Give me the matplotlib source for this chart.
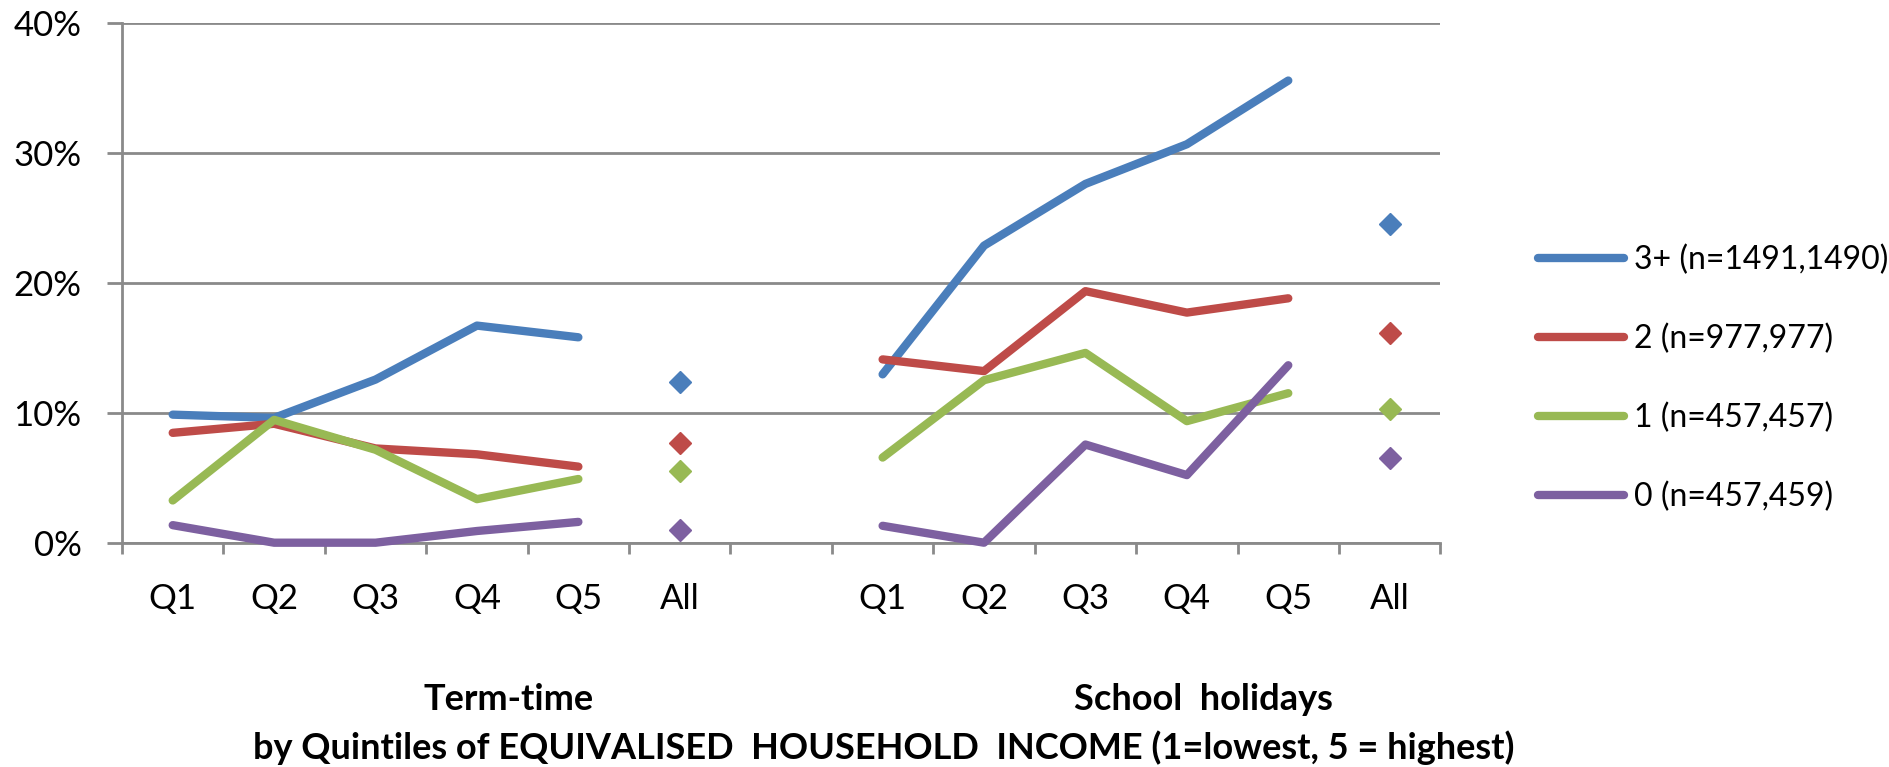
import matplotlib
matplotlib.use("Agg")
import matplotlib.pyplot as plt
from matplotlib.ticker import FixedLocator, PercentFormatter

plt.rcParams['font.family'] = ['Lato', 'DejaVu Sans']

# categories: term-time quintiles, All, gap, school holiday quintiles, All
tick_labels = ["Q1", "Q2", "Q3", "Q4", "Q5", "All", "",
               "Q1", "Q2", "Q3", "Q4", "Q5", "All"]
term_x = [0, 1, 2, 3, 4]
hol_x = [7, 8, 9, 10, 11]
all_x = [5, 12]

series_labels = ["3+ (n=1491,1490)", "2 (n=977,977)", "1 (n=457,457)", "0 (n=457,459)"]
colors = ["#4A7EBB", "#BE4B48", "#98B954", "#7D60A0"]

# percent values
term_3 = [9.85, 9.6, 12.55, 16.7, 15.8]
term_2 = [8.45, 9.15, 7.25, 6.8, 5.85]
term_1 = [3.25, 9.45, 7.15, 3.35, 4.9]
term_0 = [1.35, 0.0, 0.0, 0.9, 1.6]

hol_3 = [12.95, 22.85, 27.6, 30.65, 35.55]
hol_2 = [14.1, 13.2, 19.35, 17.7, 18.8]
hol_1 = [6.55, 12.5, 14.6, 9.35, 11.5]
hol_0 = [1.3, 0.0, 7.55, 5.2, 13.65]

all_term = [12.35, 7.7, 5.5, 1.0]
all_hol = [24.55, 16.1, 10.3, 6.55]

term = [term_3, term_2, term_1, term_0]
hol = [hol_3, hol_2, hol_1, hol_0]

fig = plt.figure(figsize=(18.9, 7.67), dpi=100)
ax = fig.add_axes([122 / 1890, 1 - 542.7 / 767, 1318.4 / 1890, 520 / 767])

grid_col = "#8A8A8A"
for i in range(4):
    ax.plot(term_x, term[i], color=colors[i], lw=6, solid_capstyle='round',
            solid_joinstyle='round', clip_on=False, zorder=3 + i, label=series_labels[i])
    ax.plot(hol_x, hol[i], color=colors[i], lw=6, solid_capstyle='round',
            solid_joinstyle='round', clip_on=False, zorder=3 + i)
    ax.plot(all_x, [all_term[i], all_hol[i]], ls='none', marker='D', ms=11,
            color=colors[i], zorder=3 + i)

ax.set_xlim(-0.5, 12.5)
ax.set_ylim(0, 40)
ax.yaxis.set_major_locator(FixedLocator([0, 10, 20, 30, 40]))
ax.yaxis.set_major_formatter(PercentFormatter(decimals=0))
ax.grid(axis='y', color=grid_col, lw=2)
ax.set_axisbelow(True)

ax.set_xticks(range(13))
ax.set_xticklabels(tick_labels)
ax.set_xticks([i - 0.5 for i in range(14)], minor=True)
ax.tick_params(axis='x', which='major', length=0, pad=29, labelsize=25)
ax.tick_params(axis='x', which='minor', length=8, width=2, color=grid_col)
ax.tick_params(axis='y', length=11, width=2, color=grid_col, pad=18, labelsize=25)

for s in ['top', 'right']:
    ax.spines[s].set_visible(False)
for s in ['left', 'bottom']:
    ax.spines[s].set_color(grid_col)
    ax.spines[s].set_linewidth(2)

fig.legend(loc='center left', bbox_to_anchor=(1538 / 1890, 1 - 378 / 767),
           frameon=False, fontsize=23, handlelength=2.7, handletextpad=0.3,
           borderpad=0, borderaxespad=0, labelspacing=1.52)

fig.text(509 / 1890, 1 - 699 / 767, "Term-time", ha='center', va='center',
         fontsize=26, fontweight='bold')
fig.text(1203 / 1890, 1 - 699 / 767, "School  holidays", ha='center', va='center',
         fontsize=26, fontweight='bold')
fig.text(884 / 1890, 1 - 748 / 767,
         "by Quintiles of EQUIVALISED  HOUSEHOLD  INCOME (1=lowest, 5 = highest)",
         ha='center', va='center', fontsize=26, fontweight='bold')

fig.savefig("out.png", dpi=100)
